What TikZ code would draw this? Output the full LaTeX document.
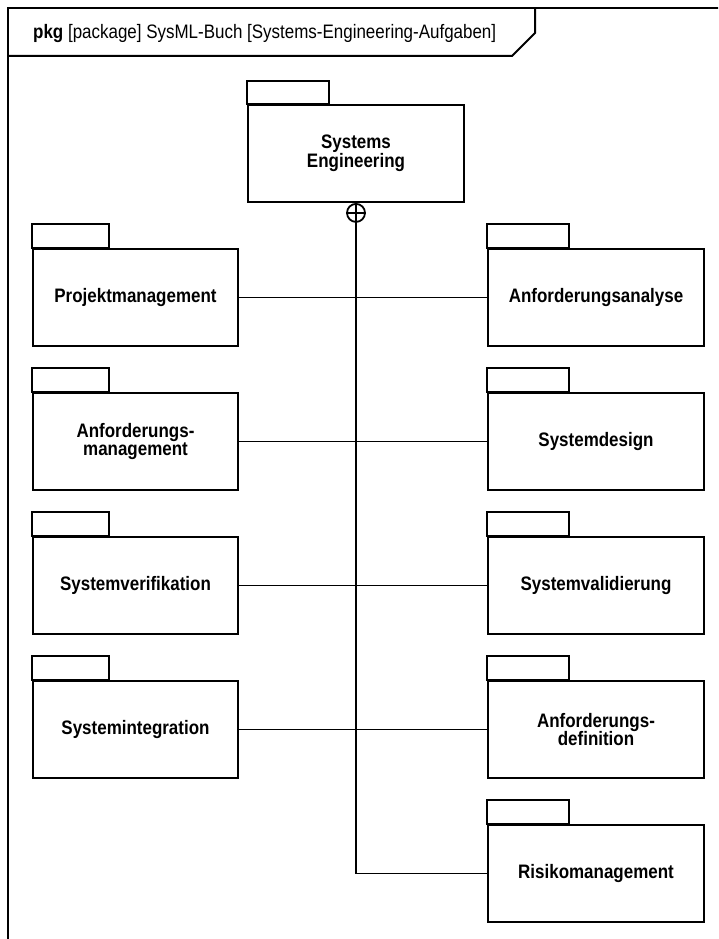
\documentclass[tikz,border=0pt]{standalone}
\usepackage{fontspec}
\newfontfamily\diafont[FakeStretch=0.87]{Liberation Sans}
\begin{document}
\begin{tikzpicture}[x=1pt,y=-1pt,
  frameline/.style={line width=2pt},
  pkgbody/.style={draw, line width=2pt, fill=white, anchor=north west,
    inner sep=0pt, align=center, minimum height=97pt,
    font=\diafont\bfseries\fontsize{19.5}{18.5}\selectfont},
  pkgtab/.style={draw, line width=2pt, fill=white},
  link/.style={line width=1.7pt},
  owner/.style={circle, draw, line width=1.8pt, minimum size=18pt, inner sep=0pt, anchor=north}]
\useasboundingbox (0,0) rectangle (718,939);
\clip (0,0) rectangle (718,939);

% diagram frame and its heading
\draw[frameline] (8,960) -- (8,8) -- (740,8);
\draw[frameline] (8,56) -- (512,56) -- (535,33) -- (535,8);
\node[anchor=base west, inner sep=0pt, font=\diafont\fontsize{19.5}{18.5}\selectfont] (title) at (33,39)
  {\textbf{pkg} [package] SysML-Buch [Systems-Engineering-Aufgaben]};

% owning package
\node[pkgbody, minimum width=216pt] (se) at (247,104) {Systems\\Engineering};
\draw[pkgtab] (se.north west) rectangle ++(82,-23);

% left column
\node[pkgbody, minimum width=205pt] (pm)  at (32,248) {Projektmanagement};
\node[pkgbody, minimum width=205pt] (am)  at (32,392) {Anforderungs-\\management};
\node[pkgbody, minimum width=205pt] (sv)  at (32,536) {Systemverifikation};
\node[pkgbody, minimum width=205pt] (si)  at (32,680) {Systemintegration};

% right column
\node[pkgbody, minimum width=216pt] (aa)  at (487,248) {Anforderungsanalyse};
\node[pkgbody, minimum width=216pt] (sd)  at (487,392) {Systemdesign};
\node[pkgbody, minimum width=216pt] (sva) at (487,536) {Systemvalidierung};
\node[pkgbody, minimum width=216pt] (ad)  at (487,680) {Anforderungs-\\definition};
\node[pkgbody, minimum width=216pt] (rm)  at (487,824) {Risikomanagement};

% tabs
\foreach \p in {pm,am,sv,si}{\draw[pkgtab] (\p.north west) rectangle ++(77,-24);}
\foreach \p in {aa,sd,sva,ad,rm}{\draw[pkgtab] (\p.north west) rectangle ++(82,-24);}

% containment anchor and owner line
\node[owner] (cp) at (se.south) {};
\draw[link] (cp.north) -- (cp.south) (cp.west) -- (cp.east);
\draw[link] (cp.south) |- (rm.west);

% horizontal links
\draw[link] (pm.east) -- (aa.west);
\draw[link] (am.east) -- (sd.west);
\draw[link] (sv.east) -- (sva.west);
\draw[link] (si.east) -- (ad.west);
\end{tikzpicture}
\end{document}
